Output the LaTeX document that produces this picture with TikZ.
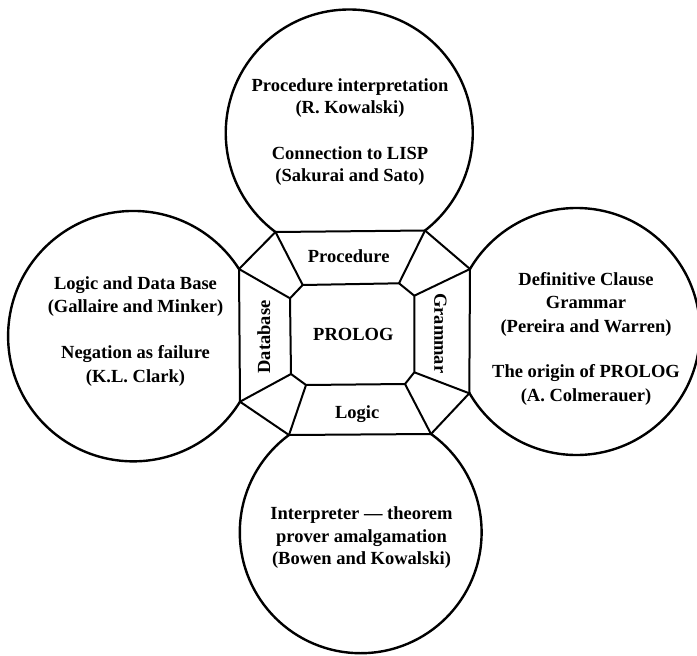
\documentclass[tikz,border=0pt]{standalone}
\usepackage{fontspec}
\setmainfont{Liberation Serif}
\begin{document}
\begin{tikzpicture}[x=1pt,y=-1pt,
  ring/.style={draw, circle, line width=2.4pt, inner sep=0pt},
  edge/.style={line width=2pt, line join=round},
  txt/.style={font=\bfseries\fontsize{18.5}{22}\selectfont, inner sep=0pt, anchor=base},
  lbl/.style={font=\bfseries\fontsize{18.5}{22}\selectfont, inner sep=0pt}]
\useasboundingbox (0,0) rectangle (697,656);
% circles
\node[ring, minimum size=247pt] (ctop) at (349.26,133) {};
\node[ring, minimum size=250.4pt] (cleft) at (133.3,336.15) {};
\node[ring, minimum size=247pt] (cright) at (576.5,331.5) {};
\node[ring, minimum size=241.8pt] (cbot) at (360.7,532.3) {};
% outer octagon
\coordinate (O1) at (275.5,232);
\coordinate (O2) at (425,230.5);
\coordinate (O3) at (470,269);
\coordinate (O4) at (469.3,393.3);
\coordinate (O5) at (431,434);
\coordinate (O6) at (289,435);
\coordinate (O7) at (240,401.7);
\coordinate (O8) at (239,269);
% inner octagon
\coordinate (I1) at (302.7,285);
\coordinate (I2) at (399,283.3);
\coordinate (I3) at (414.3,295.7);
\coordinate (I4) at (414.3,372.3);
\coordinate (I5) at (405,384);
\coordinate (I6) at (306,385);
\coordinate (I7) at (291,374);
\coordinate (I8) at (290,298.3);
\draw[edge, fill=white] (O1) -- (O2) -- (O3) -- (O4) -- (O5) -- (O6) -- (O7) -- (O8) -- cycle;
\draw[edge] (I1) -- (I2) -- (I3) -- (I4) -- (I5) -- (I6) -- (I7) -- (I8) -- cycle;
\draw[edge] (O1) -- (I1);
\draw[edge] (O2) -- (I2);
\draw[edge] (O3) -- (I3);
\draw[edge] (O4) -- (I4);
\draw[edge] (O5) -- (I5);
\draw[edge] (O6) -- (I6);
\draw[edge] (O7) -- (I7);
\draw[edge] (O8) -- (I8);
% octagon labels
\node[txt] (lproc) at (348.7,262.7) {Procedure};
\node[txt] (lprolog) at (353.3,340.7) {PROLOG};
\node[txt] (llogic) at (357.2,418.3) {Logic};
\node[lbl, rotate=90] (ldb) at (263.8,337) {Database};
\node[lbl, rotate=-90] (lgram) at (440.5,333.3) {Grammar};
% top circle text
\node[txt] (t1) at (350,91) {Procedure interpretation};
\node[txt] (t2) at (350,113.5) {(R. Kowalski)};
\node[txt] (t3) at (350,159) {Connection to LISP};
\node[txt] (t4) at (350,181.5) {(Sakurai and Sato)};
% left circle text
\node[txt] (l1) at (135.5,289) {Logic and Data Base};
\node[txt] (l2) at (135.5,312) {(Gallaire and Minker)};
\node[txt] (l3) at (135.5,358.6) {Negation as failure};
\node[txt] (l4) at (135.5,382) {(K.L. Clark)};
% right circle text
\node[txt] (r1) at (586,285) {Definitive Clause};
\node[txt] (r2) at (586,308.6) {Grammar};
\node[txt] (r3) at (586,332) {(Pereira and Warren)};
\node[txt] (r4) at (586,377.7) {The origin of PROLOG};
\node[txt] (r5) at (586,401.4) {(A. Colmerauer)};
% bottom circle text
\node[txt] (b1) at (361.5,519) {Interpreter — theorem};
\node[txt] (b2) at (361.5,542) {prover amalgamation};
\node[txt] (b3) at (361.5,564.6) {(Bowen and Kowalski)};
\end{tikzpicture}
\end{document}
